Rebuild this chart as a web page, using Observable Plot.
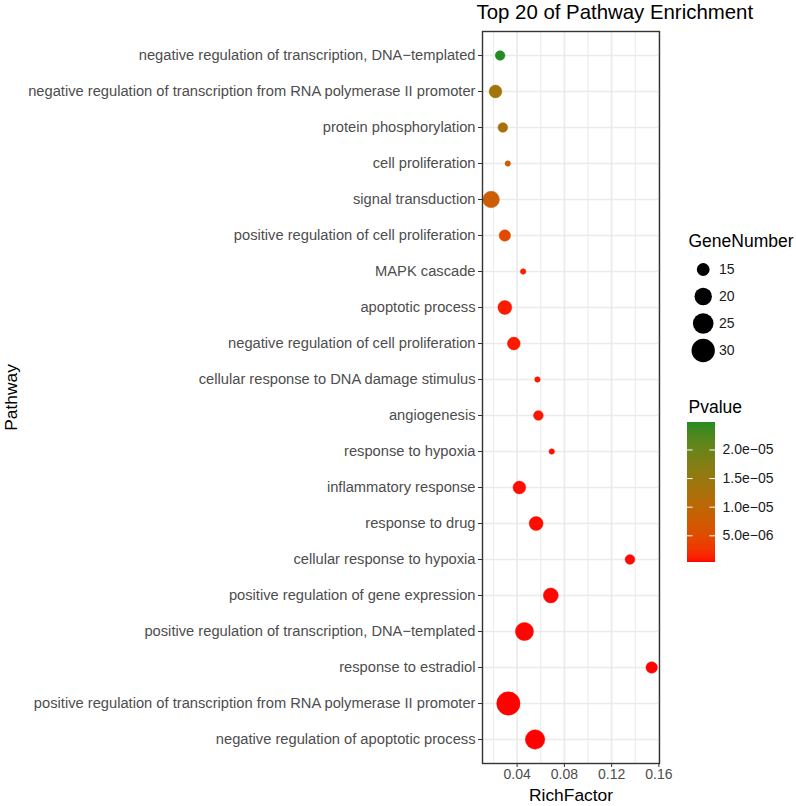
<!DOCTYPE html>
<html><head><meta charset="utf-8">
<script src="https://cdn.jsdelivr.net/npm/d3@7"></script>
<script src="https://cdn.jsdelivr.net/npm/@observablehq/plot@0.6"></script>
<style>
html,body{margin:0;padding:0;background:#fff;}
#wrap{position:relative;width:796px;height:806px;font-family:"Liberation Sans",Arial,sans-serif;}
#wrap > div{position:absolute;}
svg{overflow:visible;}
</style></head><body>
<div id="wrap"><div id="main" style="left:0;top:0"></div><div id="sizeleg" style="left:680px;top:228px"></div><div id="colleg" style="left:680px;top:395px"></div></div>
<script>
const title = "Top 20 of Pathway Enrichment";
const xLabel = "RichFactor";
const yLabel = "Pathway";
const pathways = [
  "negative regulation of transcription, DNA\u2212templated",
  "negative regulation of transcription from RNA polymerase II promoter",
  "protein phosphorylation",
  "cell proliferation",
  "signal transduction",
  "positive regulation of cell proliferation",
  "MAPK cascade",
  "apoptotic process",
  "negative regulation of cell proliferation",
  "cellular response to DNA damage stimulus",
  "angiogenesis",
  "response to hypoxia",
  "inflammatory response",
  "response to drug",
  "cellular response to hypoxia",
  "positive regulation of gene expression",
  "positive regulation of transcription, DNA\u2212templated",
  "response to estradiol",
  "positive regulation of transcription from RNA polymerase II promoter",
  "negative regulation of apoptotic process"
];
const richFactor = [0.0256, 0.0217, 0.0279, 0.0321, 0.0180, 0.0296, 0.0451, 0.0296, 0.0372, 0.0572,
                    0.0580, 0.0693, 0.0419, 0.0561, 0.1355, 0.0685, 0.0462, 0.1539, 0.0326, 0.0552];
const geneNumber = [13, 15, 13, 12, 19, 14, 12, 16, 15, 12, 13, 12, 15, 16, 13, 17, 21, 14, 30, 23];
const pvalue = [2.48e-5, 1.35e-5, 1.25e-5, 8.5e-6, 7.8e-6, 4.6e-6, 1.2e-6, 1.0e-6, 9e-7, 8.5e-7,
                8e-7, 7e-7, 6e-7, 5.5e-7, 5e-7, 4.5e-7, 4e-7, 3.8e-7, 3.5e-7, 3.3e-7];
const xTicks = [0.04, 0.08, 0.12, 0.16];
const xMinorTicks = [0.02, 0.06, 0.10, 0.14];
const sizeBreaks = [15, 20, 25, 30];
const pTicks = [5e-6, 1e-5, 1.5e-5, 2e-5];

const geneFloor = d3.min(geneNumber);
const geneCeil = d3.max(geneNumber);
const pMin = d3.min(pvalue), pMax = d3.max(pvalue);

const data = pathways.map((p, i) => ({pathway: p, rich: richFactor[i], genes: geneNumber[i], p: pvalue[i]}));

const rScale = {type: "sqrt", domain: [0, geneCeil - geneFloor], range: [2.75, 11.65]};
const colorScale = {type: "linear", domain: [pMin, pMax], range: ["red", "forestgreen"], interpolate: "lab"};
const font = "'Liberation Sans', Arial, sans-serif";
const grid = "#ebebeb";

const main = Plot.plot({
  width: 796, height: 806,
  marginLeft: 482, marginRight: 137, marginTop: 31, marginBottom: 43,
  style: {fontFamily: font, fontSize: "14px", background: "white", overflow: "visible"},
  x: {domain: [0.0107, 0.1605]},
  y: {type: "point", domain: pathways, padding: 0.6},
  r: rScale,
  color: colorScale,
  marks: [
    Plot.gridX(xMinorTicks, {stroke: grid, strokeOpacity: 1, strokeWidth: 1.1}),
    Plot.gridX(xTicks, {stroke: grid, strokeOpacity: 1, strokeWidth: 1.7}),
    Plot.gridY(pathways, {stroke: grid, strokeOpacity: 1, strokeWidth: 1.7}),
    Plot.dot(data, {x: "rich", y: "pathway", r: d => d.genes - geneFloor, fill: "p", stroke: "p", strokeWidth: 0.5}),
    Plot.frame({stroke: "#333333", strokeWidth: 1.4}),
    Plot.axisX({ticks: xTicks, tickFormat: d => d.toFixed(2), tickSize: 4, tickPadding: 2, label: null,
                fontSize: 14, fill: "#4d4d4d", stroke: "#333333"}),
    Plot.axisY({tickSize: 4, tickPadding: 3, label: null, fontSize: 14.7, fill: "#4d4d4d", stroke: "#333333", textOverflow: null, lineWidth: Infinity}),
    Plot.text([xLabel], {frameAnchor: "bottom", dy: 32, lineAnchor: "middle", textAnchor: "middle", fontSize: 17.4, fill: "black"}),
    Plot.text([yLabel], {frameAnchor: "left", dx: -471, rotate: -90, lineAnchor: "middle", textAnchor: "middle", fontSize: 17.4, fill: "black"}),
    Plot.text([title], {frameAnchor: "top-left", dx: -6, dy: -19, lineAnchor: "middle", textAnchor: "start", fontSize: 20.4, fill: "black"})
  ]
});
document.getElementById("main").append(main);

const sizeLeg = Plot.plot({
  width: 116, height: 140, margin: 0,
  style: {fontFamily: font, background: "transparent", overflow: "visible"},
  x: {axis: null},
  y: {type: "point", domain: sizeBreaks, range: [40, 122], padding: 0, axis: null},
  r: rScale,
  marks: [
    Plot.text(["GeneNumber"], {frameAnchor: "top-left", dx: 8, dy: 13, lineAnchor: "middle", textAnchor: "start", fontSize: 17.5, fill: "black"}),
    Plot.dot(sizeBreaks, {y: d => d, r: d => d - geneFloor, frameAnchor: "left", dx: 22.7, fill: "black"}),
    Plot.text(sizeBreaks, {y: d => d, text: d => String(d), frameAnchor: "left", dx: 38.5, textAnchor: "start", lineAnchor: "middle", fontSize: 14, fill: "#1a1a1a"})
  ]
});
document.getElementById("sizeleg").append(sizeLeg);

const N = 140;
const stepP = (pMax - pMin) / N;
const ramp = d3.range(N).map(i => pMin + stepP * i);
const fmtP = d => { const [m, e] = d.toExponential(1).split("e"); const n = +e; return m + "e" + (n < 0 ? "\u2212" : "+") + String(Math.abs(n)).padStart(2, "0"); };

const colLeg = Plot.plot({
  width: 116, height: 175,
  marginTop: 27, marginBottom: 8, marginLeft: 7, marginRight: 81,
  style: {fontFamily: font, background: "transparent", overflow: "visible"},
  x: {domain: [0, 1], axis: null},
  y: {domain: [pMin, pMax], axis: null},
  color: colorScale,
  marks: [
    Plot.rect(ramp, {x1: 0, x2: 1, y1: d => d, y2: d => Math.min(pMax, d + stepP * 1.6), fill: d => d + stepP / 2}),
    Plot.ruleY(pTicks, {x1: 0, x2: 0.2, stroke: "white", strokeWidth: 1}),
    Plot.ruleY(pTicks, {x1: 0.8, x2: 1, stroke: "white", strokeWidth: 1}),
    Plot.text(pTicks, {y: d => d, x: 1, dx: 7, text: fmtP, textAnchor: "start", lineAnchor: "middle", fontSize: 14, fill: "#1a1a1a"}),
    Plot.text(["Pvalue"], {frameAnchor: "top-left", dx: 1, dy: -15, lineAnchor: "middle", textAnchor: "start", fontSize: 17.5, fill: "black"})
  ]
});
document.getElementById("colleg").append(colLeg);
</script>
</body></html>
